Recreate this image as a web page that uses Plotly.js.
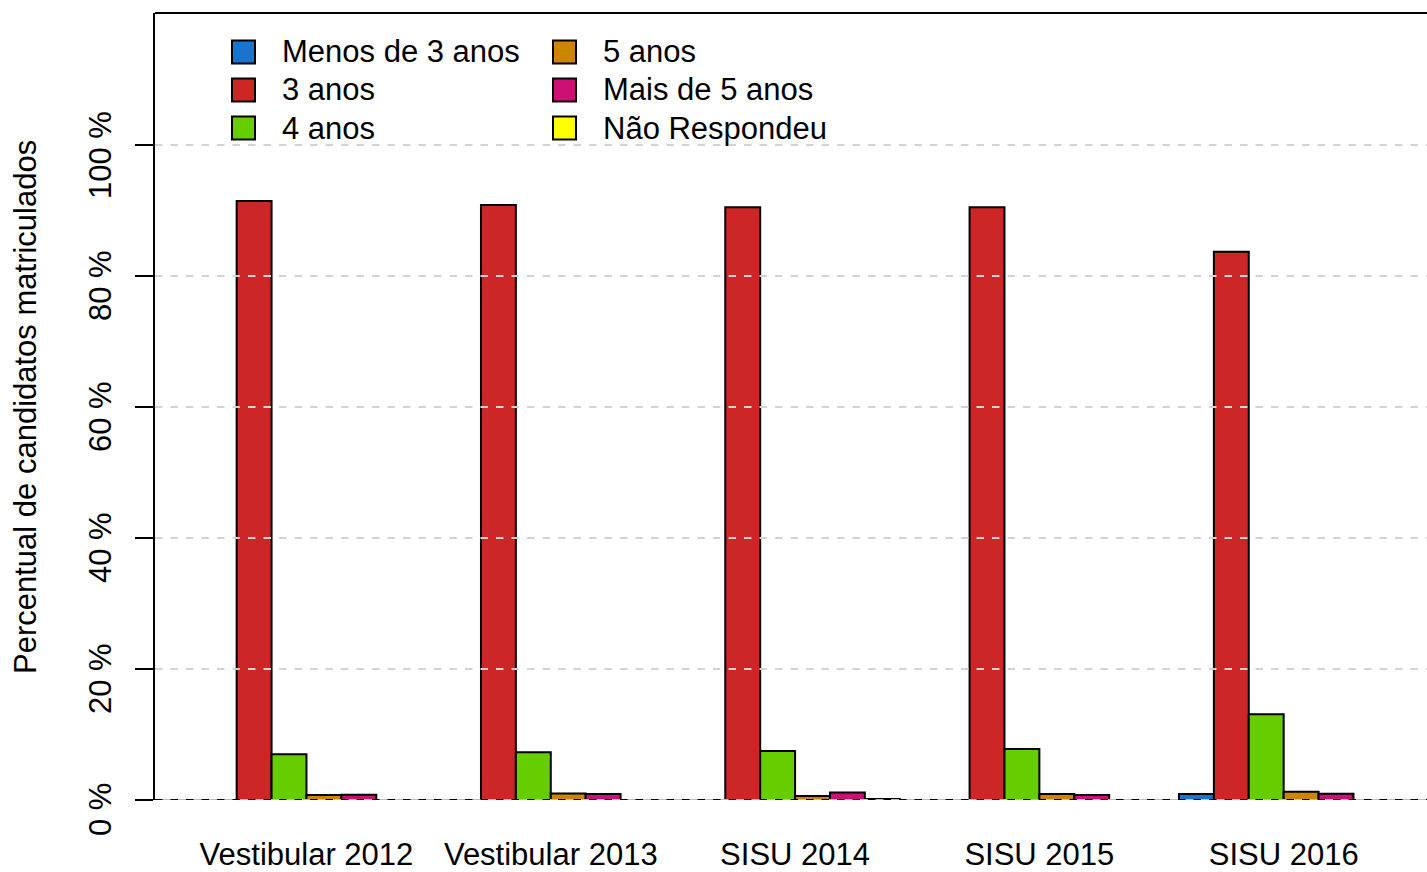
<!DOCTYPE html>
<html>
<head>
<meta charset="utf-8">
<script src="https://cdn.plot.ly/plotly-3.0.1.min.js"></script>
<style>
html,body{margin:0;padding:0;background:#fff;overflow:hidden;}
#chart{width:1427px;height:872px;}
</style>
</head>
<body>
<div id="chart"></div>
<script>
const categories = ['Vestibular 2012', 'Vestibular 2013', 'SISU 2014', 'SISU 2015', 'SISU 2016'];
const seriesNames = ['Menos de 3 anos', '3 anos', '4 anos', '5 anos', 'Mais de 5 anos', 'Não Respondeu'];
const seriesColors = ['#1874CD', '#CD2626', '#66CD00', '#CD8500', '#CD1076', '#FFFF00'];
const menos3 = [0, 0, 0, 0, 0.9];
const tres = [91.45, 90.85, 90.5, 90.5, 83.7];
const quatro = [7.0, 7.3, 7.5, 7.8, 13.1];
const cinco = [0.75, 1.0, 0.6, 0.9, 1.25];
const mais5 = [0.8, 0.9, 1.15, 0.75, 0.95];
const naoResp = [0, 0, 0.15, 0, 0];
const yTicks = [0, 20, 40, 60, 80, 100];
const yTickText = yTicks.map(v => v + ' %');
const yTitle = 'Percentual de candidatos matriculados';

const seriesValues = [menos3, tres, quatro, cinco, mais5, naoResp];
const FONT = 'Liberation Sans, Arial, Helvetica, sans-serif';
const FS = 31;

// plot area in pixels
const W = 1427, H = 872;
const mL = 155, mR = 0, mT = 13, mB = 72;
const pw = W - mL - mR, ph = H - mT - mB;
const px = x => (x - mL) / pw;
const py = y => (H - mB - y) / ph;

const nSeries = seriesNames.length;
const groupStride = nSeries + 1;

const traces = seriesValues.map((vals, s) => ({
  type: 'bar',
  name: seriesNames[s],
  x: vals.map((v, g) => 1 + groupStride * g + s + 0.5),
  y: vals,
  width: 1,
  marker: {color: seriesColors[s], line: {color: '#000', width: 2}},
  showlegend: false,
  hoverinfo: 'x+y'
}));

const shapes = [];
// grid lines (above bars)
yTicks.forEach(v => {
  if (v === 0) {
    shapes.push({type: 'line', xref: 'paper', x0: 0, x1: 1, yref: 'y', y0: 0, y1: 0,
      line: {color: '#bebebe', width: 2}, layer: 'above'});
    shapes.push({type: 'line', xref: 'paper', x0: 0, x1: 1, yref: 'y', y0: 0, y1: 0,
      line: {color: '#000', width: 2, dash: '7.5px,8px'}, layer: 'above'});
  } else {
    shapes.push({type: 'line', xref: 'paper', x0: 0, x1: 1, yref: 'y', y0: v, y1: v,
      line: {color: '#d3d3d3', width: 2, dash: '7.5px,8px'}, layer: 'above'});
  }
});
// top border
shapes.push({type: 'line', xref: 'paper', x0: 0, x1: 1, yref: 'paper', y0: 1, y1: 1,
  line: {color: '#000', width: 2}, layer: 'above'});

const annotations = [];
// custom legend (two columns, column-major like R)
seriesNames.forEach((name, i) => {
  const col = Math.floor(i / 3), row = i % 3;
  const sx = 232 + col * 321, cy = 52 + row * 38, sz = 23;
  shapes.push({type: 'rect', xref: 'paper', yref: 'paper',
    x0: px(sx), x1: px(sx + sz), y0: py(cy + sz / 2), y1: py(cy - sz / 2),
    fillcolor: seriesColors[i], line: {color: '#000', width: 2}, layer: 'above'});
  annotations.push({xref: 'paper', yref: 'paper', x: px(280 + col * 321), y: py(cy),
    xanchor: 'left', yanchor: 'middle', showarrow: false, text: name,
    font: {family: FONT, size: FS, color: '#000'}});
});
// y tick labels (rotated, as R draws them)
yTicks.forEach((v, i) => {
  annotations.push({xref: 'paper', yref: 'y', x: px(100), y: v, yshift: -10,
    textangle: -90, xanchor: 'center', yanchor: 'middle', showarrow: false,
    text: yTickText[i], font: {family: FONT, size: FS, color: '#000'}});
});
// y axis title
annotations.push({xref: 'paper', yref: 'paper', x: px(25), y: py(407), textangle: -90,
  xanchor: 'center', yanchor: 'middle', showarrow: false, text: yTitle,
  font: {family: FONT, size: FS, color: '#000'}});

const groupCenters = categories.map((c, g) => 1 + groupStride * g + nSeries / 2);

const layout = {
  width: W, height: H,
  margin: {l: mL, r: mR, t: mT, b: mB, pad: 0},
  paper_bgcolor: '#fff', plot_bgcolor: '#fff',
  barmode: 'overlay',
  showlegend: false,
  font: {family: FONT, size: FS, color: '#000'},
  xaxis: {
    range: [-0.34, -0.34 + pw / 34.9],
    tickmode: 'array', tickvals: groupCenters, ticktext: categories,
    showgrid: false, zeroline: false, showline: false, ticks: '',
    ticklabelstandoff: 33,
    tickfont: {family: FONT, size: FS, color: '#000'}
  },
  yaxis: {
    range: [0, 100 * 787 / 655],
    tickmode: 'array', tickvals: yTicks, ticktext: yTickText,
    showticklabels: false,
    showgrid: false, zeroline: false,
    showline: true, linecolor: '#000', linewidth: 2,
    ticks: 'outside', ticklen: 18, tickwidth: 2, tickcolor: '#000'
  },
  shapes: shapes,
  annotations: annotations
};

Plotly.newPlot('chart', traces, layout, {displayModeBar: false, staticPlot: true});
</script>
</body>
</html>
